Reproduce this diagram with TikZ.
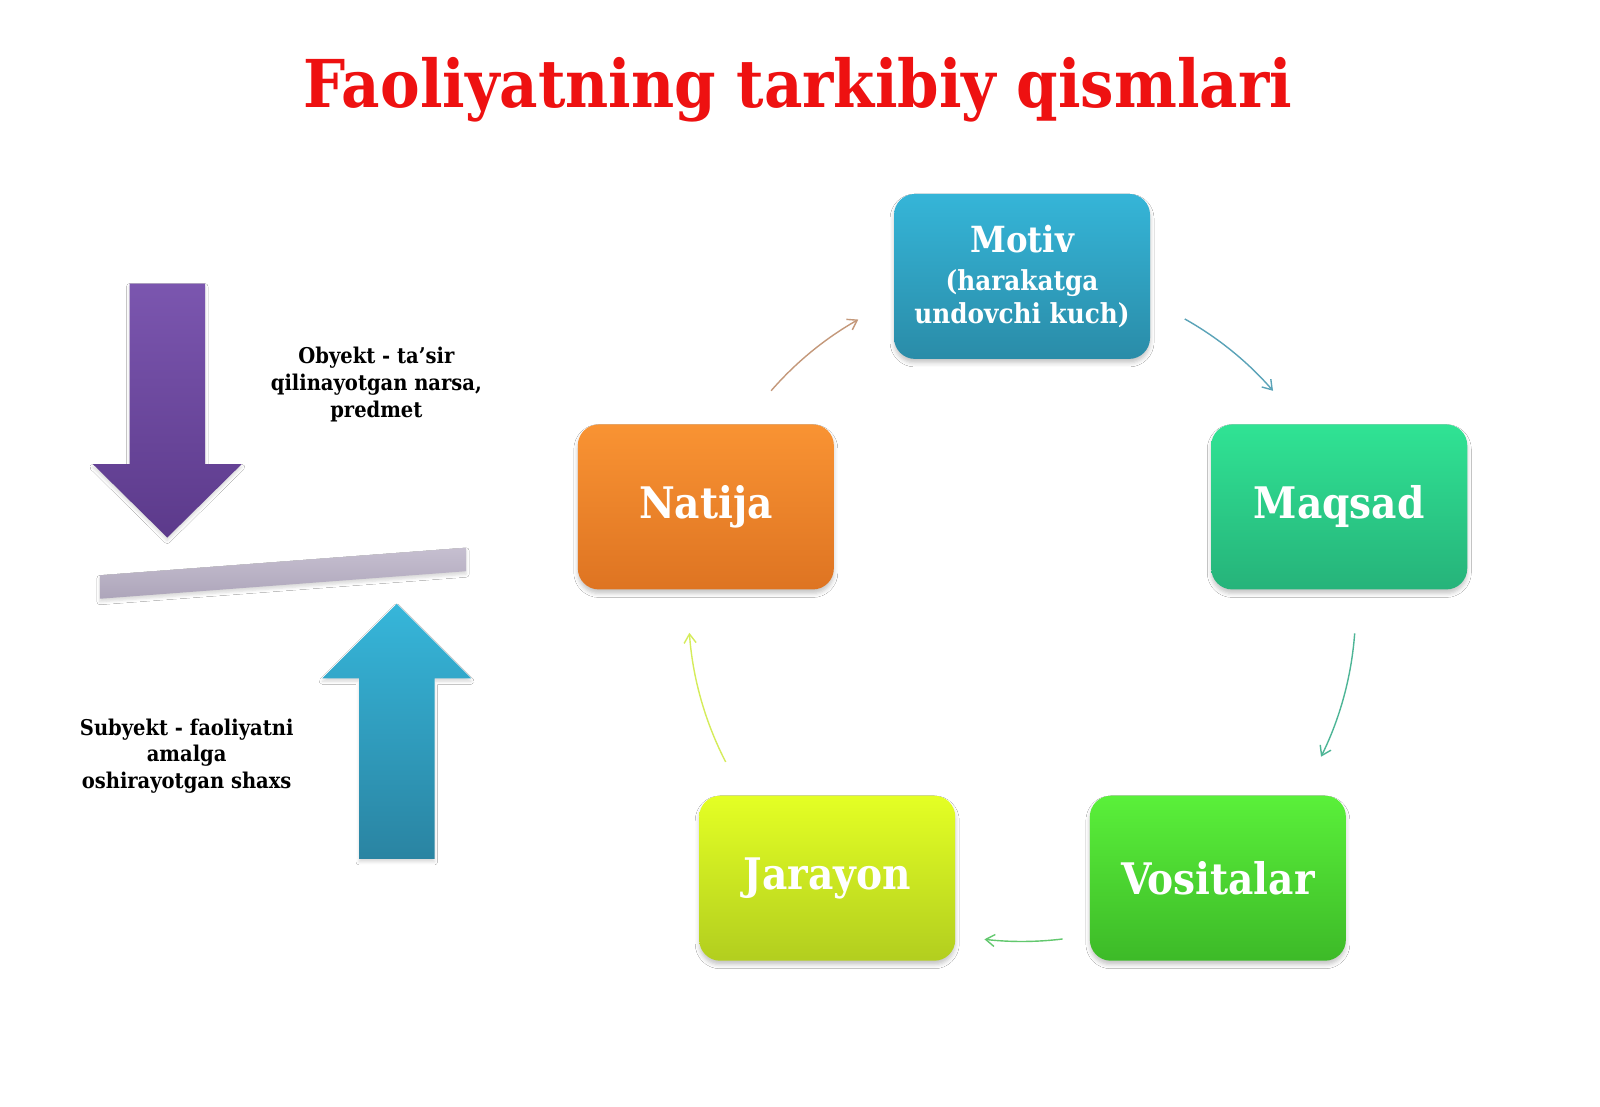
\documentclass[tikz,border=0pt]{standalone}
\usepackage{fontspec}
\setmainfont{DejaVu Serif Condensed}
\usetikzlibrary{arrows.meta,shadows.blur}
\definecolor{titlered}{HTML}{EE1111}
\definecolor{motivtop}{HTML}{35B5D8}
\definecolor{motivbot}{HTML}{2A8CA8}
\definecolor{maqsadtop}{HTML}{30E394}
\definecolor{maqsadbot}{HTML}{26B37A}
\definecolor{vositop}{HTML}{5AF03A}
\definecolor{vosibot}{HTML}{3DBA28}
\definecolor{jartop}{HTML}{E4FF24}
\definecolor{jarbot}{HTML}{B2CE1F}
\definecolor{nattop}{HTML}{F99333}
\definecolor{natbot}{HTML}{DE7422}
\definecolor{purtop}{HTML}{7B56AF}
\definecolor{purbot}{HTML}{5C3A8B}
\definecolor{blutop}{HTML}{36B6DA}
\definecolor{blubot}{HTML}{2A84A2}
\definecolor{bartop}{HTML}{C6BFD0}
\definecolor{barbot}{HTML}{ADA5BA}
\definecolor{arA}{HTML}{C4987A}
\definecolor{arB}{HTML}{5AA3B8}
\definecolor{arC}{HTML}{4DB596}
\definecolor{arD}{HTML}{62C86E}
\definecolor{arE}{HTML}{D5EC5A}
\tikzset{
  cbox/.style={rounded corners=21pt, minimum width=256pt, minimum height=165pt,
    align=center, text=white, font=\bfseries\fontsize{43.5}{50}\selectfont,
    blur shadow={shadow xshift=0pt, shadow yshift=-4pt, shadow blur radius=4pt, shadow opacity=22}},
  cyc/.style={line width=1.4pt, -{Straight Barb[length=9pt,width=12pt]}},
  side/.style={align=center, font=\bfseries\fontsize{21.7}{26.6}\selectfont, text=black},
  bigarrow/.style={blur shadow={shadow xshift=0pt, shadow yshift=-3pt, shadow blur radius=3pt, shadow opacity=15}}
}
\begin{document}
\begin{tikzpicture}[x=1.02pt,y=-1.02pt]
\useasboundingbox (0,0) rectangle (1568.63,1085.29);
\fill[white] (0,0) rectangle (1568.63,1085.29);

\node[font=\bfseries\fontsize{66}{74}\selectfont, text=titlered] (title) at (782,88) {Faoliyatning tarkibiy qismlari};

\node[cbox, top color=motivtop, bottom color=motivbot, font=\bfseries\fontsize{27.5}{33}\selectfont] (motiv) at (1002,271)
  {{\fontsize{36}{40}\selectfont Motiv}\\[5pt](harakatga\\undovchi kuch)};
\node[cbox, top color=maqsadtop, bottom color=maqsadbot] (maqsad) at (1313,497) {Maqsad};
\node[cbox, top color=vositop, bottom color=vosibot] (vosita) at (1194,861) {Vositalar};
\node[cbox, top color=jartop, bottom color=jarbot] (jarayon) at (811,861) {Jarayon};
\node[cbox, top color=nattop, bottom color=natbot] (natija) at (692,497) {Natija};

\coordinate (cyccentre) at (1002,597);
\draw[cyc, arA] ([shift={(-139:326)}]cyccentre) arc[start angle=-139, end angle=-119.5, radius=326];
\draw[cyc, arB] ([shift={(-60.7:326)}]cyccentre) arc[start angle=-60.7, end angle=-41, radius=326];
\draw[cyc, arC] ([shift={(4.2:327)}]cyccentre) arc[start angle=4.2, end angle=26.3, radius=327];
\draw[cyc, arD] ([shift={(83:326)}]cyccentre) arc[start angle=83, end angle=96.5, radius=326];
\draw[cyc, arE] ([shift={(152.7:327)}]cyccentre) arc[start angle=152.7, end angle=175.9, radius=327];

% left side
\path[bigarrow, top color=purtop, bottom color=purbot]
  (127,278) -- (201,278) -- (201,455) -- (237,455) -- (164,527) -- (91,455) -- (127,455) -- cycle;
\path[bigarrow, top color=bartop, bottom color=barbot]
  (98,564) -- (457,537) -- (457,560) -- (98,587) -- cycle;
\path[bigarrow, top color=blutop, bottom color=blubot]
  (389,592) -- (462,665) -- (426,665) -- (426,842) -- (352,842) -- (352,665) -- (316,665) -- cycle;

\node[side] (obyekt) at (369,377) {Obyekt - ta’sir\\qilinayotgan narsa,\\predmet};
\node[side] (subyekt) at (183,741) {Subyekt - faoliyatni\\amalga\\oshirayotgan shaxs};
\end{tikzpicture}
\end{document}
